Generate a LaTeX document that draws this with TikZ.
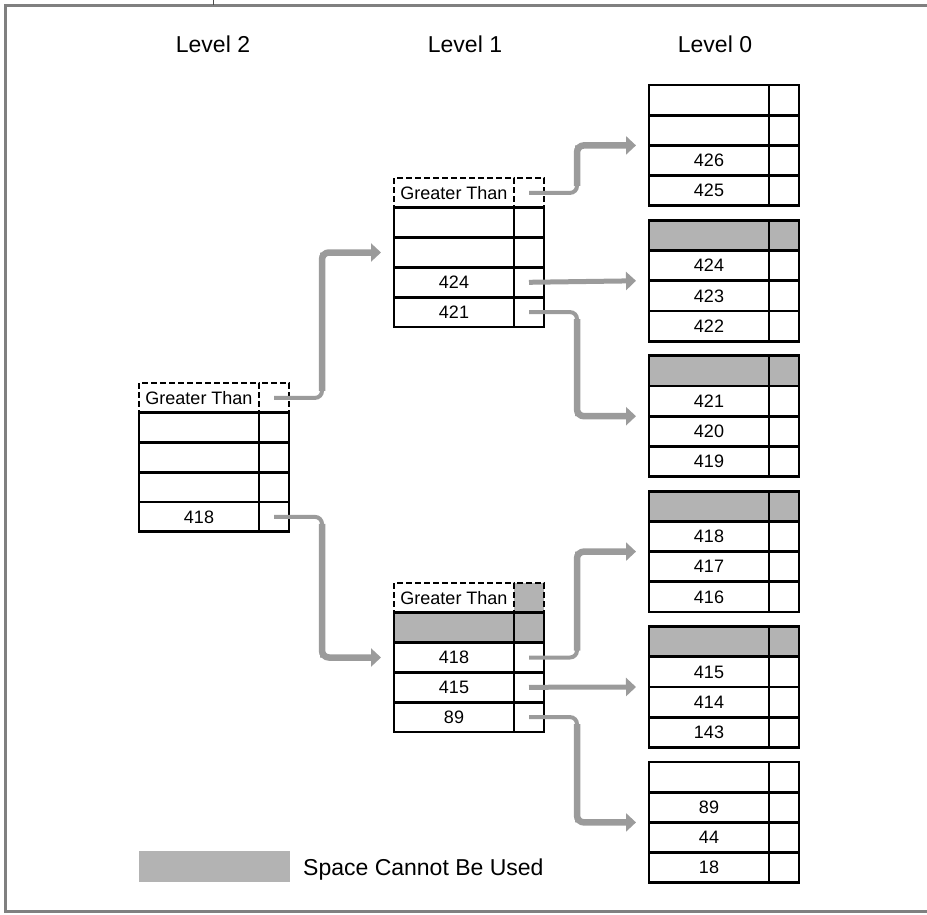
\documentclass[tikz,border=0pt]{standalone}
\usepackage{fontspec}
\setmainfont{Liberation Sans}
\usetikzlibrary{arrows.meta}
\definecolor{cellgray}{RGB}{179,179,179}
\definecolor{arrgray}{RGB}{155,155,155}
\definecolor{framegray}{RGB}{128,128,128}
\tikzset{
  cell/.style={draw=black, line width=2.8pt, inner sep=0pt, outer sep=0pt,
    minimum height=29.8pt, font=\fontsize{18}{20}\selectfont},
  lzcell/.style={cell, minimum height=30.2pt},
  gtcell/.style={draw=black, line width=2.5pt, dash pattern=on 6pt off 3pt, inner sep=0pt, outer sep=0pt,
    minimum height=29.8pt, font=\fontsize{18}{20}\selectfont},
  grayed/.style={fill=cellgray},
  biglabel/.style={inner sep=0pt, font=\fontsize{23}{26}\selectfont},
  arrthin/.style={draw=arrgray, line width=4pt, rounded corners=7pt},
  arrthick/.style={draw=arrgray, line width=6.5pt, rounded corners=7pt,
    -{Triangle[length=10pt, width=18pt]}},
  arrstraight/.style={draw=arrgray, line width=5pt,
    -{Triangle[length=10pt, width=18pt]}},
}
\newcommand{\mkrow}[4]{%
  \node[#4, minimum width=120pt, anchor=north west] (#1) at (#2) {#3};
  \node[#4, minimum width=30pt, anchor=north west] (#1p) at ([xshift=120pt]#2) {};
}
\begin{document}
\begin{tikzpicture}[x=1pt, y=-1pt]
\useasboundingbox (0,0) rectangle (927,915);
% frame
\draw[framegray, line width=3.5pt] (927,5.5) -- (5.5,5.5) -- (5.5,911.5) -- (927,911.5);
\draw[black!70, line width=0.8pt] (213,0) -- (213,5);
% level labels
\node[biglabel, anchor=base] (lv2) at (213,53) {Level 2};
\node[biglabel, anchor=base] (lv1) at (465,53) {Level 1};
\node[biglabel, anchor=base] (lv0) at (715,53) {Level 0};
% Level 2 table
\mkrow{L2g}{139,383}{Greater Than}{gtcell}
\mkrow{L2a}{139,412.75}{}{cell}
\mkrow{L2b}{139,442.5}{}{cell}
\mkrow{L2c}{139,472.25}{}{cell}
\mkrow{L2d}{139,502}{418}{cell}
% Level 1 top table
\mkrow{L1tg}{394,178}{Greater Than}{gtcell}
\mkrow{L1ta}{394,207.8}{}{cell}
\mkrow{L1tb}{394,237.6}{}{cell}
\mkrow{L1tc}{394,267.4}{424}{cell}
\mkrow{L1td}{394,297.2}{421}{cell}
% Level 1 bottom table
\node[gtcell, minimum width=120pt, anchor=north west] (L1bg) at (394,583) {Greater Than};
\node[gtcell, grayed, minimum width=30pt, anchor=north west] (L1bgp) at (514,583) {};
\mkrow{L1ba}{394,612.8}{}{cell,grayed}
\mkrow{L1bb}{394,642.6}{418}{cell}
\mkrow{L1bc}{394,672.4}{415}{cell}
\mkrow{L1bd}{394,702.2}{89}{cell}
% Level 0 tables
\mkrow{A1}{649,85}{}{lzcell}
\mkrow{A2}{649,115.2}{}{lzcell}
\mkrow{A3}{649,145.4}{426}{lzcell}
\mkrow{A4}{649,175.6}{425}{lzcell}
\mkrow{B1}{649,220.4}{}{lzcell,grayed}
\mkrow{B2}{649,250.6}{424}{lzcell}
\mkrow{B3}{649,280.8}{423}{lzcell}
\mkrow{B4}{649,311}{422}{lzcell}
\mkrow{C1}{649,355.8}{}{lzcell,grayed}
\mkrow{C2}{649,386}{421}{lzcell}
\mkrow{C3}{649,416.2}{420}{lzcell}
\mkrow{C4}{649,446.4}{419}{lzcell}
\mkrow{D1}{649,491.2}{}{lzcell,grayed}
\mkrow{D2}{649,521.4}{418}{lzcell}
\mkrow{D3}{649,551.6}{417}{lzcell}
\mkrow{D4}{649,581.8}{416}{lzcell}
\mkrow{E1}{649,626.6}{}{lzcell,grayed}
\mkrow{E2}{649,656.8}{415}{lzcell}
\mkrow{E3}{649,687}{414}{lzcell}
\mkrow{E4}{649,717.2}{143}{lzcell}
\mkrow{F1}{649,762}{}{lzcell}
\mkrow{F2}{649,792.2}{89}{lzcell}
\mkrow{F3}{649,822.4}{44}{lzcell}
\mkrow{F4}{649,852.6}{18}{lzcell}
% arrow coordinates
\coordinate (k1) at ([xshift=-72pt]L1tb.west);
\coordinate (t1) at ([xshift=-13pt]L1tb.west);
\coordinate (k2) at ([xshift=-72pt]L1bb.west);
\coordinate (t2) at ([xshift=-13pt]L1bb.west);
\coordinate (k3) at ([xshift=-72pt]A2.south west);
\coordinate (t3) at ([xshift=-13pt]A2.south west);
\coordinate (t4) at ([xshift=-13pt]B2.south west);
\coordinate (k5) at ([xshift=-72pt]C2.south west);
\coordinate (t5) at ([xshift=-13pt]C2.south west);
\coordinate (k6) at ([xshift=-72pt]D2.south west);
\coordinate (t6) at ([xshift=-13pt]D2.south west);
\coordinate (t7) at ([xshift=-13pt]E2.south west);
\coordinate (k8) at ([xshift=-72pt]F2.south west);
\coordinate (t8) at ([xshift=-13pt]F2.south west);
% arrows
\draw[arrthin] (L2gp.center) -| (k1);
\draw[arrthick, shorten <=7pt] (L2gp.center -| k1) -- (k1) -- (t1);
\draw[arrthin] (L2dp.center) -| (k2);
\draw[arrthick, shorten <=7pt] (L2dp.center -| k2) -- (k2) -- (t2);
\draw[arrthin] (L1tgp.center) -| (k3);
\draw[arrthick, shorten <=7pt] (L1tgp.center -| k3) -- (k3) -- (t3);
\draw[arrstraight] (L1tcp.center) -- (t4);
\draw[arrthin] (L1tdp.center) -| (k5);
\draw[arrthick, shorten <=7pt] (L1tdp.center -| k5) -- (k5) -- (t5);
\draw[arrthin] (L1bbp.center) -| (k6);
\draw[arrthick, shorten <=7pt] (L1bbp.center -| k6) -- (k6) -- (t6);
\draw[arrstraight] (L1bcp.center) -- (t7);
\draw[arrthin] (L1bdp.center) -| (k8);
\draw[arrthick, shorten <=7pt] (L1bdp.center -| k8) -- (k8) -- (t8);
% legend
\node[fill=cellgray, inner sep=0pt, minimum width=151pt, minimum height=31pt, anchor=north west] (leg) at (139,851) {};
\node[biglabel, anchor=base west] (legt) at (303,875) {Space Cannot Be Used};
\end{tikzpicture}
\end{document}
